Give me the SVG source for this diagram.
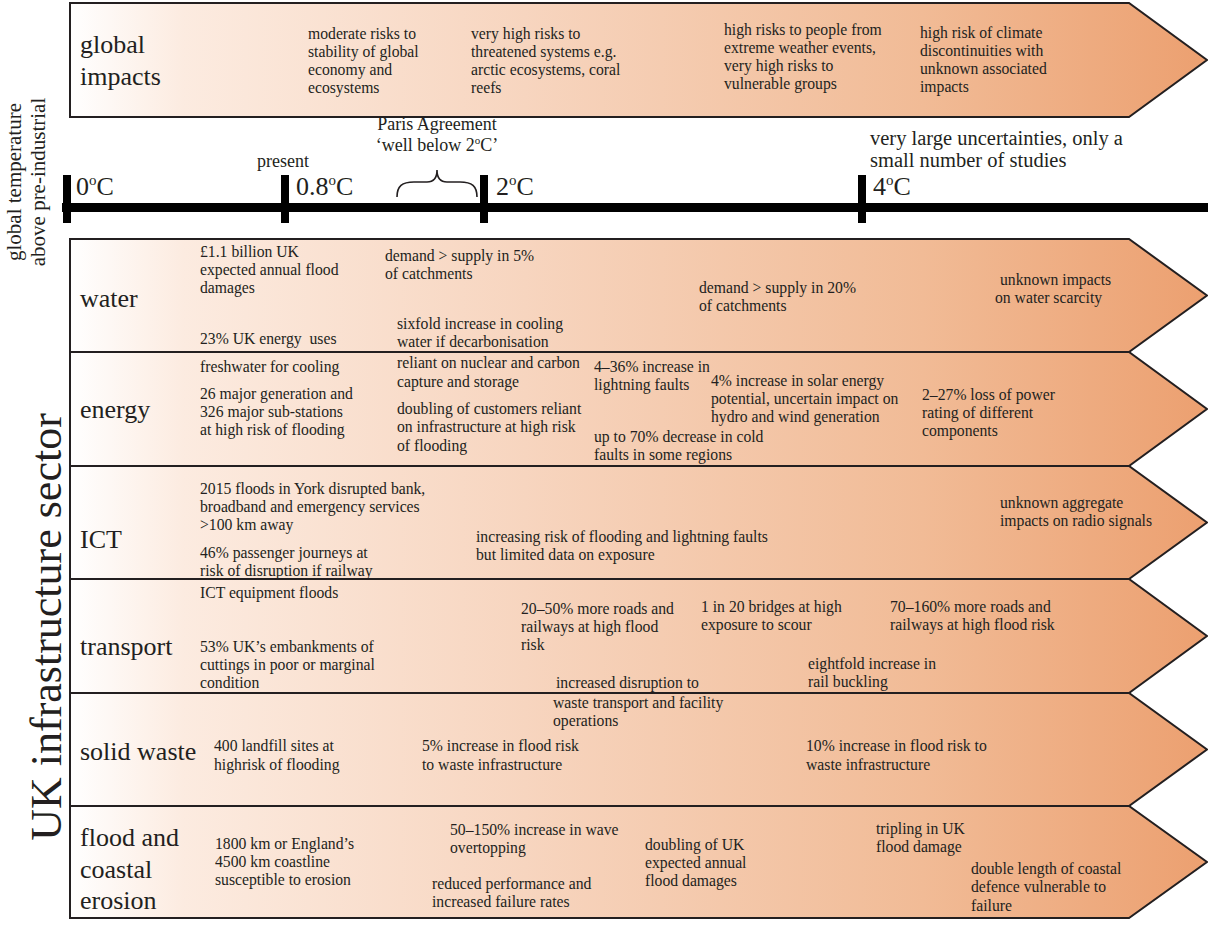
<svg xmlns="http://www.w3.org/2000/svg" width="1208" height="927" viewBox="0 0 1208 927">
<defs>
<linearGradient id="g" gradientUnits="userSpaceOnUse" x1="70" y1="0" x2="1207" y2="0">
<stop offset="0" stop-color="#ffffff"/>
<stop offset="0.1" stop-color="#fcebe0"/>
<stop offset="0.4" stop-color="#f7d5bf"/>
<stop offset="0.75" stop-color="#f1bb96"/>
<stop offset="1" stop-color="#eca070"/>
</linearGradient>
<style>
text{font-family:"Liberation Serif","Times New Roman",serif;fill:#231f20}
.t{font-size:15.7px}
.lab{font-size:26px}
.ann{font-size:18px}
.big{font-size:20.5px}
.side{font-size:21px}
.ax{font-size:26px}
.arrow{fill:url(#g);stroke:#231f20;stroke-width:2;stroke-linejoin:miter}
.bar{fill:#000}
</style>
</defs>
<rect width="1208" height="927" fill="#fff"/>

<g id="side-labels">
<text class="side" text-anchor="middle" transform="translate(21,182) rotate(-90)">global temperature</text>
<text class="side" text-anchor="middle" transform="translate(45,182) rotate(-90)">above pre-industrial</text>
<text style="font-size:44px" text-anchor="middle" transform="translate(61,627) rotate(-90)">UK infrastructure sector</text>
</g>

<g id="node-global">
<polygon class="arrow" points="70,3 1129,3 1207,60 1129,117 70,117"/>
<text class="lab" x="80" y="53">global<tspan x="80" dy="32">impacts</tspan></text>
<text class="t" x="308" y="39">moderate risks to<tspan x="308" dy="18">stability of global</tspan><tspan x="308" dy="18">economy and</tspan><tspan x="308" dy="18">ecosystems</tspan></text>
<text class="t" x="471" y="39">very high risks to<tspan x="471" dy="18">threatened systems e.g.</tspan><tspan x="471" dy="18">arctic ecosystems, coral</tspan><tspan x="471" dy="18">reefs</tspan></text>
<text class="t" x="724" y="35">high risks to people from<tspan x="724" dy="18">extreme weather events,</tspan><tspan x="724" dy="18">very high risks to</tspan><tspan x="724" dy="18">vulnerable groups</tspan></text>
<text class="t" x="920" y="38">high risk of climate<tspan x="920" dy="18">discontinuities with</tspan><tspan x="920" dy="18">unknown associated</tspan><tspan x="920" dy="18">impacts</tspan></text>
</g>

<g id="axis">
<rect class="bar" x="62" y="203" width="1146" height="9"/>
<rect class="bar" x="63" y="175" width="8" height="48"/>
<rect class="bar" x="281" y="175" width="8" height="48"/>
<rect class="bar" x="480" y="175" width="8" height="48"/>
<rect class="bar" x="858" y="175" width="8" height="48"/>
<text class="ax" x="76" y="195">0<tspan font-size="15" dy="-10">o</tspan><tspan dy="10">C</tspan></text>
<text class="ax" x="296" y="195">0.8<tspan font-size="15" dy="-10">o</tspan><tspan dy="10">C</tspan></text>
<text class="ax" x="496" y="195">2<tspan font-size="15" dy="-10">o</tspan><tspan dy="10">C</tspan></text>
<text class="ax" x="873" y="195">4<tspan font-size="15" dy="-10">o</tspan><tspan dy="10">C</tspan></text>
<text class="ann" x="257" y="167">present</text>
<text class="ann" x="437" y="130" text-anchor="middle">Paris Agreement</text>
<text class="ann" x="437" y="151" text-anchor="middle">‘well below 2<tspan font-size="11" dy="-7">o</tspan><tspan dy="7">C’</tspan></text>
<path d="M397,197 C397,186 402,182 414,182 L427,182 C434,182 437,178 437,170 C437,178 440,182 447,182 L460,182 C472,182 477,186 477,197" fill="none" stroke="#231f20" stroke-width="1.6"/>
<text class="big" x="870" y="145">very large uncertainties, only a<tspan x="870" dy="21.5">small number of studies</tspan></text>
</g>

<g id="node-water">
<polygon class="arrow" points="70,239 1129,239 1207,295.5 1129,352 70,352"/>
<text class="lab" x="80" y="307">water</text>
<text class="t" x="200" y="257">£1.1 billion UK<tspan x="200" dy="18">expected annual flood</tspan><tspan x="200" dy="18">damages</tspan></text>
<text class="t" x="200" y="344" xml:space="preserve">23% UK energy  uses</text>
<text class="t" x="385" y="261">demand &gt; supply in 5%<tspan x="385" dy="18">of catchments</tspan></text>
<text class="t" x="397" y="329">sixfold increase in cooling<tspan x="397" dy="18">water if decarbonisation</tspan></text>
<text class="t" x="699" y="293">demand &gt; supply in 20%<tspan x="699" dy="18">of catchments</tspan></text>
<text class="t" x="1000" y="285">unknown impacts<tspan x="995" dy="18">on water scarcity</tspan></text>
</g>

<g id="node-energy">
<polygon class="arrow" points="70,352 1129,352 1207,409 1129,466 70,466"/>
<text class="lab" x="80" y="418">energy</text>
<text class="t" x="200" y="372">freshwater for cooling</text>
<text class="t" x="200" y="399">26 major generation and<tspan x="200" dy="18">326 major sub-stations</tspan><tspan x="200" dy="18">at high risk of flooding</tspan></text>
<text class="t" x="397" y="368">reliant on nuclear and carbon<tspan x="397" dy="19">capture and storage</tspan></text>
<text class="t" x="397" y="414">doubling of customers reliant<tspan x="397" dy="18">on infrastructure at high risk</tspan><tspan x="397" dy="19">of flooding</tspan></text>
<text class="t" x="594" y="372">4–36% increase in<tspan x="594" dy="18">lightning faults</tspan></text>
<text class="t" x="711" y="386">4% increase in solar energy<tspan x="711" dy="18">potential, uncertain impact on</tspan><tspan x="711" dy="18">hydro and wind generation</tspan></text>
<text class="t" x="594" y="442">up to 70% decrease in cold<tspan x="594" dy="18">faults in some regions</tspan></text>
<text class="t" x="922" y="400">2–27% loss of power<tspan x="922" dy="18">rating of different</tspan><tspan x="922" dy="18">components</tspan></text>
</g>

<g id="node-ict">
<polygon class="arrow" points="70,466 1129,466 1207,522.5 1129,579 70,579"/>
<text class="lab" x="80" y="548">ICT</text>
<text class="t" x="200" y="494">2015 floods in York disrupted bank,<tspan x="200" dy="18">broadband and emergency services</tspan><tspan x="200" dy="18">&gt;100 km away</tspan></text>
<text class="t" x="200" y="558">46% passenger journeys at<tspan x="200" dy="18">risk of disruption if railway</tspan></text>
<text class="t" x="476" y="542">increasing risk of flooding and lightning faults<tspan x="476" dy="18">but limited data on exposure</tspan></text>
<text class="t" x="1000" y="508">unknown aggregate<tspan x="1000" dy="18">impacts on radio signals</tspan></text>
</g>

<g id="node-transport">
<polygon class="arrow" points="70,579 1129,579 1207,636 1129,693 70,693"/>
<text class="lab" x="80" y="655">transport</text>
<text class="t" x="200" y="598">ICT equipment floods</text>
<text class="t" x="200" y="652">53% UK’s embankments of<tspan x="200" dy="18">cuttings in poor or marginal</tspan><tspan x="200" dy="18">condition</tspan></text>
<text class="t" x="521" y="614">20–50% more roads and<tspan x="521" dy="18">railways at high flood</tspan><tspan x="521" dy="18">risk</tspan></text>
<text class="t" x="701" y="612">1 in 20 bridges at high<tspan x="701" dy="18">exposure to scour</tspan></text>
<text class="t" x="890" y="612">70–160% more roads and<tspan x="890" dy="18">railways at high flood risk</tspan></text>
<text class="t" x="808" y="669">eightfold increase in<tspan x="808" dy="18">rail buckling</tspan></text>
<text class="t" x="556" y="688">increased disruption to</text>
</g>

<g id="node-solid-waste">
<polygon class="arrow" points="70,693 1129,693 1207,749.5 1129,806 70,806"/>
<text class="t" x="553" y="708">waste transport and facility<tspan x="553" dy="18">operations</tspan></text>
<text class="lab" x="80" y="760">solid waste</text>
<text class="t" x="214" y="751">400 landfill sites at<tspan x="214" dy="19">highrisk of flooding</tspan></text>
<text class="t" x="422" y="751">5% increase in flood risk<tspan x="422" dy="19">to waste infrastructure</tspan></text>
<text class="t" x="806" y="751">10% increase in flood risk to<tspan x="806" dy="19">waste infrastructure</tspan></text>
</g>

<g id="node-flood-coastal">
<polygon class="arrow" points="70,806 1129,806 1207,862 1129,918 70,918"/>
<text class="lab" x="80" y="846">flood and<tspan x="80" dy="31.5">coastal</tspan><tspan x="80" dy="31.5">erosion</tspan></text>
<text class="t" x="215" y="849">1800 km or England’s<tspan x="215" dy="18">4500 km coastline</tspan><tspan x="215" dy="18">susceptible to erosion</tspan></text>
<text class="t" x="450" y="835">50–150% increase in wave<tspan x="450" dy="18">overtopping</tspan></text>
<text class="t" x="432" y="889">reduced performance and<tspan x="432" dy="18">increased failure rates</tspan></text>
<text class="t" x="645" y="850">doubling of UK<tspan x="645" dy="18">expected annual</tspan><tspan x="645" dy="18">flood damages</tspan></text>
<text class="t" x="876" y="834">tripling in UK<tspan x="876" dy="18">flood damage</tspan></text>
<text class="t" x="971" y="874">double length of coastal<tspan x="971" dy="18">defence vulnerable to</tspan><tspan x="971" dy="19">failure</tspan></text>
</g>
</svg>
